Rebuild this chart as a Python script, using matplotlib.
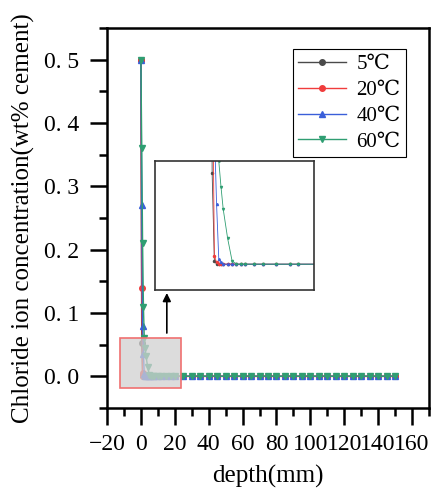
import matplotlib
matplotlib.use("Agg")
import matplotlib.pyplot as plt
from matplotlib.patches import Rectangle
from matplotlib.ticker import MultipleLocator, FuncFormatter

plt.rcParams['font.family'] = ['Liberation Serif', 'DejaVu Serif', 'Noto Sans CJK SC']
plt.rcParams['axes.unicode_minus'] = True

# depth (mm)
depth = [0, 0.5, 1, 1.5, 2, 2.5, 3, 4, 5, 6, 7, 8, 10, 12, 15, 18, 20] + list(range(25, 155, 5))
n = len(depth)
tail = [0.0] * (n - 9)

c5 = [0.5, 0.053, 0.002, 0.0, 0.0, 0.0, 0.0, 0.0, 0.0] + tail
c20 = [0.5, 0.14, 0.005, 0.001, 0.0, 0.0, 0.0, 0.0, 0.0] + tail
c40 = [0.5, 0.27, 0.08, 0.035, 0.003, 0.001, 0.0, 0.0, 0.0] + tail
c60 = [0.5, 0.36, 0.21, 0.11, 0.06, 0.045, 0.032, 0.015, 0.002] + tail

labels = ['5℃', '20℃', '40℃', '60℃']
colors = ['#4a4a4a', '#f03c3c', '#3a5fd9', '#2f9e72']
markers = ['o', 'o', '^', 'v']
series = [c5, c20, c40, c60]

fig = plt.figure(figsize=(4.33, 4.92), dpi=100)
ax = fig.add_axes([107/433, 84/492, 322/433, 380/492])

for y, lab, col, mk in zip(series, labels, colors, markers):
    ax.plot(depth, y, color=col, marker=mk, markersize=4, linewidth=1, label=lab)

ax.set_xlim(-20, 170)
ax.set_ylim(-0.05, 0.55)
ax.xaxis.set_major_locator(MultipleLocator(20))
ax.xaxis.set_minor_locator(MultipleLocator(10))
ax.yaxis.set_major_locator(MultipleLocator(0.1))
ax.yaxis.set_minor_locator(MultipleLocator(0.05))
ax.yaxis.set_major_formatter(FuncFormatter(lambda v, p: ('%.1f' % v).replace('.', '. ').replace('-0. 0', '0. 0')))
ax.tick_params(which='both', direction='out', width=1.8, labelsize=17, colors='black')
ax.tick_params(which='major', length=12)
ax.tick_params(axis='x', which='major', pad=7)
ax.tick_params(axis='y', which='major', pad=8)
ax.tick_params(which='minor', length=6)
for s in ax.spines.values():
    s.set_linewidth(1.8)

ax.set_xlabel('depth(mm)', fontsize=18)
ax.set_ylabel('Chloride ion concentration(wt% cement)', fontsize=18)
ax.xaxis.set_label_coords(0.5, -0.15)
ax.yaxis.set_label_coords(-0.225, 0.5)

leg = ax.legend(loc='upper right', fontsize=15, fancybox=False, edgecolor='black',
                framealpha=1, handlelength=2.3, labelspacing=0.3, borderpad=0.25,
                handletextpad=0.5, bbox_to_anchor=(0.96, 0.971))
leg.get_frame().set_linewidth(0.8)

# zoom region
ax.add_patch(Rectangle((-12.4, -0.019), 35.9, 0.08, facecolor=(0.82, 0.82, 0.82, 0.75),
                       edgecolor='#f07070', linewidth=1.2, zorder=5))
ax.annotate('', xy=(15.3, 0.136), xytext=(15.3, 0.064),
            arrowprops=dict(arrowstyle='-|>', color='black', lw=1.2, mutation_scale=12), zorder=6)

# inset
axin = fig.add_axes([155/433, 202/492, 159/433, 129/492])
for y, col, mk in zip(series, colors, markers):
    axin.plot(depth, y, color=col, marker=mk, markersize=1.5, linewidth=0.6)
axin.set_xlim(-12.4, 23.5)
axin.set_ylim(-0.015, 0.06)
axin.set_xticks([])
axin.set_yticks([])
for s in axin.spines.values():
    s.set_linewidth(1.2)
    s.set_color('#333333')

fig.savefig('out.png', dpi=100)
